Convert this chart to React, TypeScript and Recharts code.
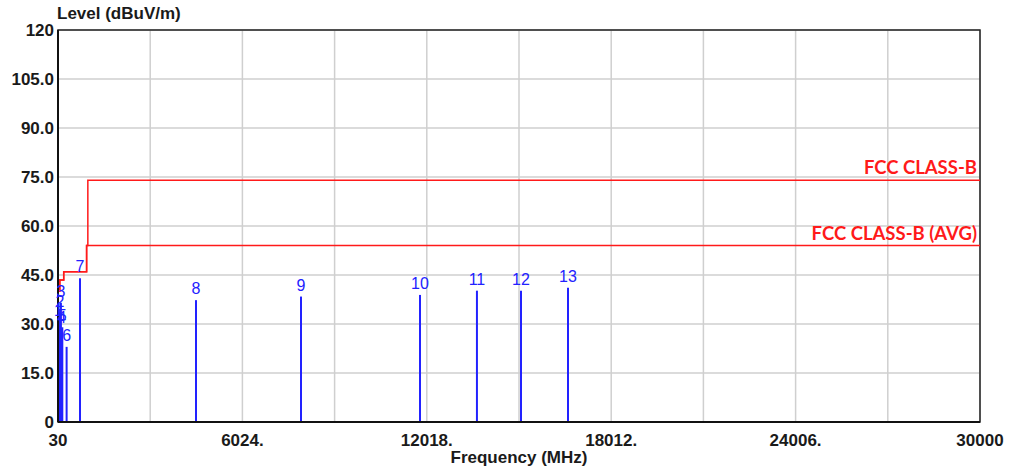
import React from 'react';
import { ComposedChart, Line, XAxis, YAxis, CartesianGrid, ReferenceArea, LabelList } from 'recharts';

// peaks found in the scan
const markerNo = [1, 2, 3, 4, 5, 6, 7, 8, 9, 10, 11, 12, 13];
const markerFreq = [48, 95, 125, 150, 170, 310, 745, 4516, 7929, 11797, 13648, 15080, 16608];
const markerLevel = [30.5, 33.5, 36.5, 28.5, 29.0, 23.0, 44.0, 37.3, 38.4, 38.9, 40.2, 40.2, 41.1];

// limit lines (step after each point)
const peakFreq = [30, 88, 216, 960, 1000, 30000];
const peakLevel = [40, 43.5, 46, 54, 74, 74];
const avgFreq = [30, 88, 216, 960, 30000];
const avgLevel = [40, 43.5, 46, 54, 54];

const xTicks = [30, 3027, 6024, 9021, 12018, 15015, 18012, 21009, 24006, 27003, 30000];
const yTicks = [0, 15, 30, 45, 60, 75, 90, 105, 120];

const FONT = '"Liberation Sans", Arial, sans-serif';
const BLUE = '#2222ff';
const RED = '#ff1a1a';

const peakData = peakFreq.map((f, i) => ({ f, v: peakLevel[i] }));
const avgData = avgFreq.map((f, i) => ({ f, v: avgLevel[i] }));
const markers = markerNo.map((n, i) => ({
  n,
  data: [
    { f: markerFreq[i], v: 0, label: '' },
    { f: markerFreq[i], v: markerLevel[i], label: String(n) },
  ],
}));

const fmtX = (v: number, i: number) => {
  if (i % 2 === 1) return '';
  if (v === 30 || v === 30000) return String(v);
  return v + '.';
};
const fmtY = (v: number) => (v === 0 || v === 120 ? String(v) : v.toFixed(1));

function limitLabel(text: string, lastIndex: number) {
  return (props: any) => {
    const { x, y, index } = props;
    if (index !== lastIndex) return null;
    return (
      <text x={x - 3} y={y - 6} textAnchor="end" fill={RED} fontSize={18.5} fontWeight="bold" fontFamily="Lato, sans-serif">
        {text}
      </text>
    );
  };
}

export default function App() {
  return (
    <div style={{ position: 'absolute', left: 0, top: 0, width: 1013, height: 470, background: '#fff', fontFamily: FONT }}>
      <div style={{ position: 'absolute', left: 57, top: 4, fontSize: 17, fontWeight: 'bold', color: '#1a1a1a' }}>
        Level (dBuV/m)
      </div>
      <div style={{ position: 'absolute', left: 0, width: 1038, top: 448, textAlign: 'center', fontSize: 17, fontWeight: 'bold', color: '#1a1a1a' }}>
        Frequency (MHz)
      </div>
      <ComposedChart width={1013} height={470} margin={{ top: 30, right: 33, bottom: 0, left: 0 }}>
        <CartesianGrid stroke="#cfcfcf" strokeWidth={1.5} />
        <XAxis
          type="number"
          dataKey="f"
          domain={[30, 30000]}
          ticks={xTicks}
          interval={0}
          tickFormatter={fmtX}
          allowDataOverflow
          height={48}
          tickLine={false}
          tickSize={0}
          tickMargin={12}
          axisLine={{ stroke: '#111', strokeWidth: 2 }}
          tick={{ fill: '#1a1a1a', fontSize: 17, fontWeight: 'bold', fontFamily: FONT }}
        />
        <YAxis
          type="number"
          dataKey="v"
          domain={[0, 120]}
          ticks={yTicks}
          interval={0}
          tickFormatter={fmtY}
          allowDataOverflow
          width={58}
          tickLine={false}
          tickSize={0}
          tickMargin={4}
          axisLine={{ stroke: '#111', strokeWidth: 2 }}
          tick={{ fill: '#1a1a1a', fontSize: 17, fontWeight: 'bold', fontFamily: FONT }}
        />
        <ReferenceArea x1={30} x2={30000} y1={0} y2={120} fill="none" stroke="#222" strokeWidth={1.5} />
        {markers.map((m) => (
          <Line
            key={m.n}
            data={m.data}
            dataKey="v"
            stroke={BLUE}
            strokeWidth={2}
            dot={false}
            activeDot={false}
            isAnimationActive={false}
          >
            <LabelList dataKey="label" position="top" offset={6} fill={BLUE} fontSize={16} fontFamily={FONT} />
          </Line>
        ))}
        <Line
          data={avgData}
          dataKey="v"
          type="stepAfter"
          stroke={RED}
          strokeWidth={1.5}
          dot={false}
          activeDot={false}
          isAnimationActive={false}
        >
          <LabelList dataKey="v" content={limitLabel('FCC CLASS-B (AVG)', avgData.length - 1)} />
        </Line>
        <Line
          data={peakData}
          dataKey="v"
          type="stepAfter"
          stroke={RED}
          strokeWidth={1.5}
          dot={false}
          activeDot={false}
          isAnimationActive={false}
        >
          <LabelList dataKey="v" content={limitLabel('FCC CLASS-B', peakData.length - 1)} />
        </Line>
      </ComposedChart>
    </div>
  );
}
